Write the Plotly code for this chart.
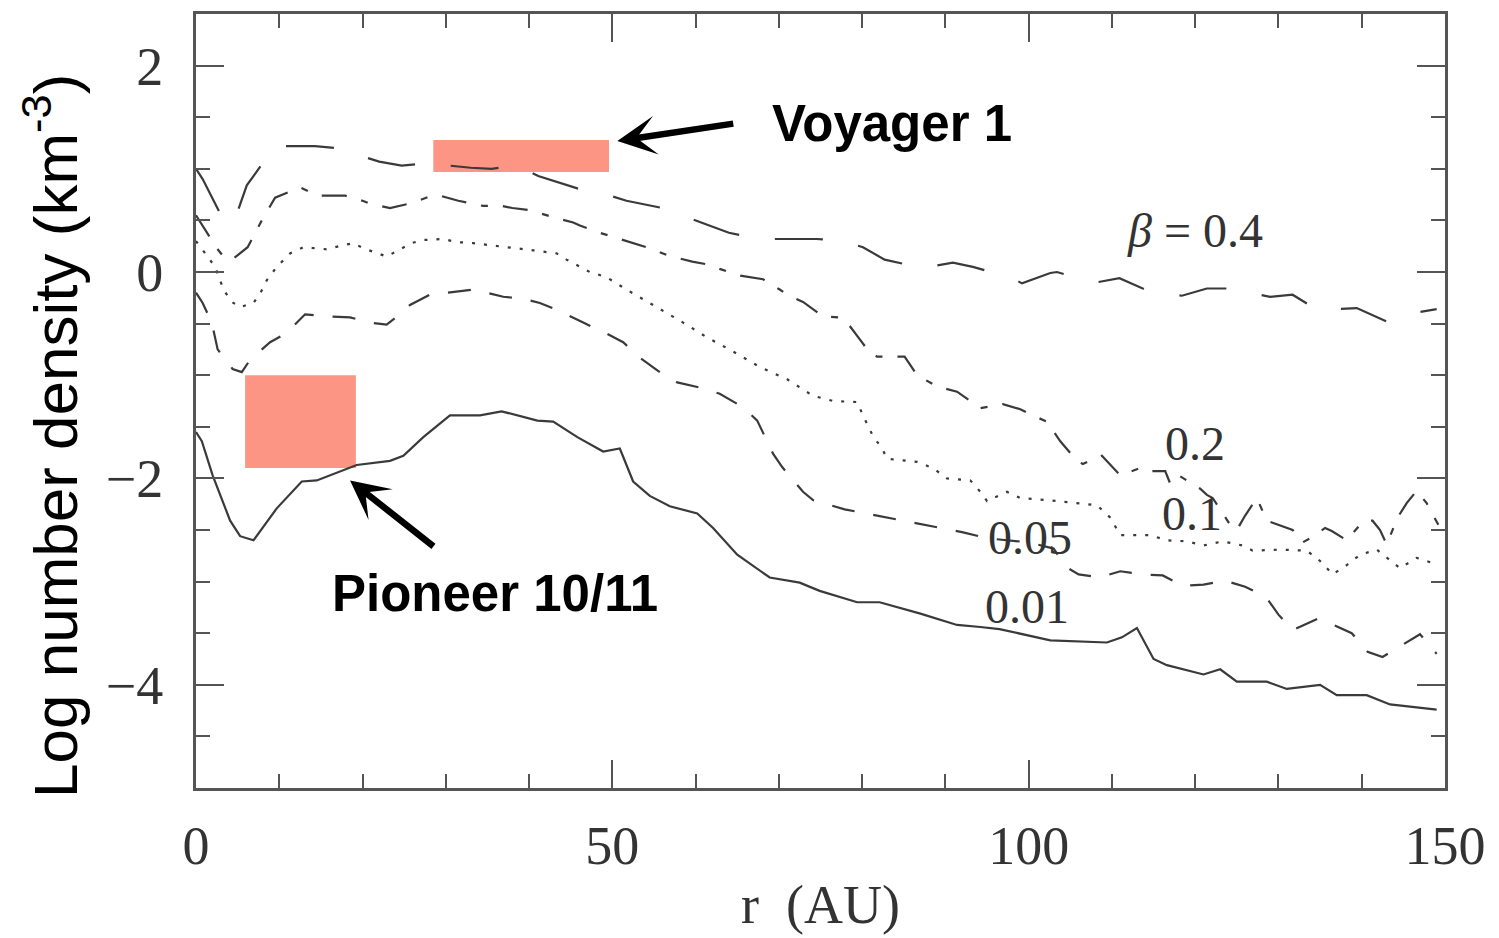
import plotly.graph_objects as go

# Radial profiles of log number density for several beta values
r_b001 = [0, 0.7, 2, 4.1, 5.3, 6.9, 9.7, 12.7, 14.5, 19.3, 23.3, 24.9, 27.3, 30.5, 34.1, 36.7, 41,
          42.9, 45.8, 48.9, 50.9, 52.5, 54.5, 56.9, 60.2, 62.1, 65, 68.9, 72.5, 74.9, 79.4, 82.1, 87,
          91.4, 94.2, 96.5, 102.6, 109.4, 111.2, 113, 115, 116.6, 121, 123, 125, 128.6, 131, 135,
          137, 140.6, 143.4, 149]
n_b001 = [-1.55, -1.64, -1.97, -2.41, -2.56, -2.6, -2.29, -2.03, -2.02, -1.87, -1.83, -1.78, -1.60,
          -1.39, -1.39, -1.35, -1.44, -1.45, -1.60, -1.74, -1.71, -2.03, -2.17, -2.27, -2.34, -2.48,
          -2.74, -2.96, -3.01, -3.09, -3.2, -3.2, -3.31, -3.42, -3.44, -3.46, -3.57, -3.59, -3.54,
          -3.45, -3.75, -3.81, -3.90, -3.85, -3.97, -3.97, -4.04, -4.0, -4.1, -4.1, -4.19, -4.24]

r_b005 = [0, 0.8, 1.9, 2.6, 4.4, 5.5, 6.5, 8.9, 10.9, 13.1, 15.7, 18.5, 20.9, 22.9, 23.7, 25.7, 28.1,
          30.5, 33.3, 36.9, 39.3, 41.3, 43.7, 46.5, 48.9, 51.3, 53.3, 55.7, 57.8, 60.5, 62.9, 65.7,
          67.4, 69.3, 70.4, 72.9, 74.1, 77.9, 83.1, 88.4, 92, 95, 100, 103, 104.5, 106, 108.5, 111,
          113.7, 116.1, 118.5, 121, 123.5, 126, 128.5, 130, 131.7, 134.7, 136.6, 138.8, 140.7, 142.5,
          145, 147, 149]
n_b005 = [-0.2, -0.30, -0.49, -0.75, -0.94, -0.97, -0.85, -0.68, -0.59, -0.41, -0.43, -0.44, -0.49,
          -0.51, -0.46, -0.32, -0.22, -0.2, -0.17, -0.24, -0.26, -0.30, -0.38, -0.49, -0.58, -0.68,
          -0.83, -0.97, -1.07, -1.12, -1.18, -1.31, -1.44, -1.76, -1.89, -2.13, -2.21, -2.30, -2.38,
          -2.46, -2.52, -2.58, -2.62, -2.68, -2.86, -2.93, -2.96, -2.90, -2.93, -2.94, -3.04, -3.03,
          -2.99, -3.05, -3.15, -3.32, -3.47, -3.36, -3.42, -3.50, -3.68, -3.73, -3.61, -3.51, -3.70]

r_b01 = [0, 0.8, 2.3, 3.3, 4.3, 5.3, 6.9, 7.7, 8.5, 9.7, 11.3, 12.9, 15.7, 17.7, 18.9, 20.1, 21.7,
         22.9, 24.5, 25.9, 27.3, 29.7, 31.3, 33.3, 35.3, 37.7, 40.5, 43.3, 44.5, 47.3, 49.3, 51.7,
         54.5, 58.5, 61.3, 64.5, 67.7, 71, 74.1, 76.5, 79.4, 80.1, 81.3, 82.4, 83, 86.6, 88.5, 90.2,
         93, 94.2, 95, 97.4, 99, 102.2, 108.2, 109.8, 111, 114.6, 116.6, 119, 121, 123.3, 125.7,
         126.9, 130.2, 133.4, 135, 136.5, 138.2, 139.8, 141.8, 143, 144.6, 146.6, 148.5]
n_b01 = [0.3, 0.21, 0.05, -0.17, -0.29, -0.34, -0.30, -0.21, -0.08, 0.05, 0.18, 0.24, 0.22, 0.26,
         0.28, 0.23, 0.18, 0.15, 0.22, 0.28, 0.31, 0.32, 0.29, 0.28, 0.26, 0.24, 0.21, 0.18, 0.12,
         0.0, -0.05, -0.17, -0.3, -0.49, -0.63, -0.77, -0.92, -1.04, -1.2, -1.25, -1.26, -1.39,
         -1.59, -1.71, -1.81, -1.84, -1.90, -2.0, -2.02, -2.13, -2.22, -2.13, -2.19, -2.21, -2.26,
         -2.38, -2.55, -2.55, -2.60, -2.61, -2.65, -2.61, -2.65, -2.70, -2.69, -2.70, -2.80, -2.93,
         -2.84, -2.74, -2.69, -2.77, -2.87, -2.77, -2.82]

r_b02 = [0, 1.2, 2.5, 3.5, 4.5, 6.2, 7.9, 9.5, 11.5, 12.5, 14.6, 17.9, 20, 21, 23.3, 26, 28.3, 29.3,
         31.5, 34.5, 36.7, 38, 40.1, 42.9, 45.3, 46.1, 48.5, 51.3, 53.3, 54.5, 56.7, 59.6, 61.7,
         62.9, 65, 68.1, 70.1, 71, 72.9, 75.3, 77.3, 78.2, 79.7, 80.9, 81.8, 84.3, 85.1, 86.6, 89,
         91.4, 92.1, 94.2, 96.9, 99, 100.2, 102.2, 103.8, 105.8, 106.5, 108.8, 111, 113.4, 114.2,
         116.4, 117, 118, 120.6, 121.4, 122.1, 124.2, 125, 126, 127.4, 128.6, 131.7, 132.9, 133.8,
         135.6, 136.4, 138.2, 139.8, 140.4, 141.3, 142.2, 143, 144.3, 145.4, 146.6, 147.8, 149.2]
n_b02 = [0.55, 0.4, 0.23, 0.13, 0.13, 0.24, 0.5, 0.72, 0.79, 0.82, 0.74, 0.74, 0.69, 0.66, 0.62,
         0.67, 0.74, 0.74, 0.69, 0.64, 0.64, 0.62, 0.6, 0.53, 0.48, 0.45, 0.38, 0.31, 0.26, 0.23,
         0.16, 0.10, 0.07, 0.03, -0.03, -0.07, -0.17, -0.22, -0.29, -0.43, -0.44, -0.49, -0.65,
         -0.78, -0.82, -0.82, -0.82, -1.0, -1.11, -1.16, -1.2, -1.32, -1.28, -1.33, -1.38, -1.45,
         -1.64, -1.83, -1.86, -1.78, -1.97, -1.9, -1.93, -1.93, -2.05, -1.97, -2.1, -2.16, -2.19,
         -2.45, -2.5, -2.36, -2.19, -2.41, -2.5, -2.62, -2.58, -2.48, -2.51, -2.6, -2.45, -2.41,
         -2.41, -2.5, -2.64, -2.38, -2.24, -2.12, -2.24, -2.45]

r_b04 = [0, 0.8, 3.2, 4.5, 6.1, 9.5, 14.3, 18.1, 20, 22, 24.7, 28.5, 30.5, 33, 35.5, 38.5, 41.1,
         43.5, 45.8, 49.7, 51.7, 56, 61.7, 64, 66.5, 69.3, 72.3, 74.5, 77.1, 80.1, 82.7, 85, 87.2,
         90.9, 93.3, 95.5, 97.8, 99.2, 102.6, 103.4, 105.5, 108.2, 110.9, 113.7, 116, 118.4, 121.4,
         124.4, 126.5, 129, 131.7, 134.7, 137, 139.4, 143, 145.2, 149]
n_b04 = [1.0, 0.9, 0.52, 0.47, 0.84, 1.22, 1.22, 1.19, 1.12, 1.07, 1.03, 1.06, 1.03, 1.01, 1.0,
         1.03, 0.93, 0.87, 0.81, 0.74, 0.69, 0.62, 0.45, 0.38, 0.34, 0.32, 0.32, 0.32, 0.31, 0.24,
         0.12, 0.08, 0.04, 0.09, 0.05, 0.0, -0.05, -0.11, -0.01, 0.0, -0.05, -0.1, -0.06, -0.16,
         -0.2, -0.23, -0.16, -0.16, -0.2, -0.24, -0.22, -0.37, -0.36, -0.35, -0.48, -0.41, -0.36]

# Curve labels: text, r position, density position
curve_labels = [("<i>β</i> = 0.4", 120.0, 0.40),
                ("0.2", 120.0, -1.66),
                ("0.1", 119.6, -2.34),
                ("0.05", 100.2, -2.57),
                ("0.01", 99.8, -3.24)]

# Spacecraft measurement ranges: (r0, r1, n0, n1)
voyager_box = (28.5, 49.6, 0.97, 1.28)
pioneer_box = (5.9, 19.2, -1.9, -1.0)

line_color = "#3a3a3a"
serif = "Liberation Serif"
sans = "Liberation Sans"

fig = go.Figure()

series = [
    (r_b001, n_b001, "solid"),
    (r_b005, n_b005, "23px,19px"),
    (r_b01, n_b01, "3px,9px"),
    (r_b02, n_b02, "25px,15px,7px,15px"),
    (r_b04, n_b04, "48px,36px"),
]
for xs, ys, dash in series:
    fig.add_trace(go.Scatter(x=xs, y=ys, mode="lines",
                             line=dict(color=line_color, width=2.2, dash=dash),
                             showlegend=False, hoverinfo="skip"))

salmon = "#fc9583"
for (x0, x1, y0, y1) in (voyager_box, pioneer_box):
    fig.add_shape(type="rect", xref="x", yref="y", x0=x0, x1=x1, y0=y0, y1=y1,
                  fillcolor=salmon, line=dict(width=0), layer="below")

for text, xv, yv in curve_labels:
    fig.add_annotation(x=xv, y=yv, xref="x", yref="y", text=text, showarrow=False,
                       font=dict(family=serif, size=48, color="#333333"),
                       xanchor="center", yanchor="middle")

# Arrows pointing at the two measurement boxes
fig.add_annotation(x=50.6, y=1.27, ax=64.7, ay=1.44, xref="x", yref="y", axref="x", ayref="y",
                   text="", showarrow=True, arrowhead=3, arrowsize=1.0, arrowwidth=6.5,
                   arrowcolor="black", standoff=0)
fig.add_annotation(x=18.5, y=-2.02, ax=28.7, ay=-2.67, xref="x", yref="y", axref="x", ayref="y",
                   text="", showarrow=True, arrowhead=3, arrowsize=1.0, arrowwidth=6.5,
                   arrowcolor="black", standoff=0)

fig.add_annotation(x=83.6, y=1.44, xref="x", yref="y", text="<b>Voyager 1</b>", showarrow=False,
                   font=dict(family=sans, size=51, color="black"),
                   xanchor="center", yanchor="middle")
fig.add_annotation(x=35.9, y=-3.12, xref="x", yref="y", text="<b>Pioneer 10/11</b>",
                   showarrow=False, font=dict(family=sans, size=51, color="black"),
                   xanchor="center", yanchor="middle")

# Axis titles
fig.add_annotation(x=(51 - 196) / 1249, y=(788 - 436) / 774, xref="paper", yref="paper",
                   text="Log number density (km<sup>-3</sup>)", textangle=-90, showarrow=False,
                   font=dict(family=sans, size=62, color="black"),
                   xanchor="center", yanchor="middle")
fig.add_annotation(x=0.5, y=(788 - 905) / 774, xref="paper", yref="paper",
                   text="r  (AU)", showarrow=False,
                   font=dict(family=serif, size=54, color="#333333"),
                   xanchor="center", yanchor="middle")

axis_color = "#555555"
fig.update_xaxes(range=[0, 150], tick0=0, dtick=50, ticks="inside", ticklen=28, tickwidth=2,
                 tickcolor=axis_color, showline=True, linecolor=axis_color, linewidth=3,
                 mirror="allticks", showgrid=False, zeroline=False,
                 tickfont=dict(family=serif, size=54, color="#333333"),
                 ticklabelstandoff=8,
                 minor=dict(dtick=10, ticks="inside", ticklen=14, tickwidth=2,
                            tickcolor=axis_color, showgrid=False))
fig.update_yaxes(range=[-5, 2.5], tick0=0, dtick=2, ticks="inside", ticklen=28, tickwidth=2,
                 tickcolor=axis_color, showline=True, linecolor=axis_color, linewidth=3,
                 mirror="allticks", showgrid=False, zeroline=False,
                 tickfont=dict(family=serif, size=54, color="#333333"),
                 ticklabelstandoff=19,
                 minor=dict(dtick=0.5, ticks="inside", ticklen=14, tickwidth=2,
                            tickcolor=axis_color, showgrid=False))

fig.update_layout(width=1499, height=938, margin=dict(l=196, r=54, t=14, b=150),
                  plot_bgcolor="white", paper_bgcolor="white", showlegend=False)

fig.write_html("out.html")
